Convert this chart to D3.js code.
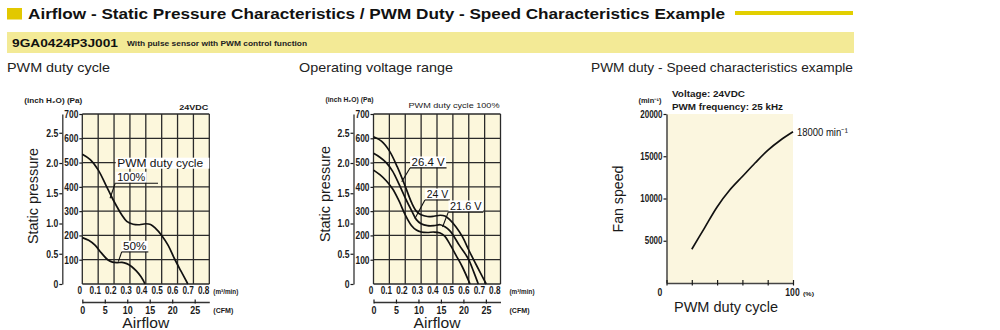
<!DOCTYPE html>
<html><head><meta charset="utf-8">
<script src="https://cdn.jsdelivr.net/npm/d3@7"></script>
<style>
body{margin:0;background:#fff;}
svg{display:block;font-family:"Liberation Sans",Arial,Helvetica,sans-serif;}
</style></head><body>
<svg id="c" width="1000" height="330"></svg>
<script>
// ---------- data ----------
const titleText = "Airflow - Static Pressure Characteristics / PWM Duty - Speed Characteristics Example";
const modelText = "9GA0424P3J001";
const modelNote = "With pulse sensor with PWM control function";
const subTitles = ["PWM duty cycle", "Operating voltage range", "PWM duty - Speed characteristics example"];

const flowTicks = [0, 0.1, 0.2, 0.3, 0.4, 0.5, 0.6, 0.7, 0.8];
const flowTickLabels = ["0", "0.1", "0.2", "0.3", "0.4", "0.5", "0.6", "0.7", "0.8"];
const cfmTicks = [0, 5, 10, 15, 20, 25];
const paTicks = [100, 200, 300, 400, 500, 600, 700];
const paGrid = [0, 100, 200, 300, 400, 500, 600, 700];
const inchTicks = [0, 0.5, 1, 1.5, 2, 2.5];
const inchTickLabels = ["0", "0.5", "1.0", "1.5", "2.0", "2.5"];

// PWM duty cycle chart (24 VDC)
const pwm100Flow = [0, 0.05, 0.1, 0.15, 0.19, 0.22, 0.25, 0.28, 0.32, 0.36, 0.4, 0.43, 0.46, 0.5, 0.54, 0.58, 0.62, 0.665];
const pwm100Pa   = [534, 512, 470, 405, 352, 316, 283, 258, 246, 244, 248, 245, 230, 200, 160, 105, 55, 0];
const pwm50Flow  = [0, 0.04, 0.08, 0.12, 0.16, 0.19, 0.22, 0.25, 0.28, 0.31, 0.34, 0.37, 0.395];
const pwm50Pa    = [191, 180, 160, 128, 100, 90, 88, 89, 84, 72, 54, 30, 0];

// Operating voltage range chart (PWM 100%)
const v264Flow = [0, 0.05, 0.1, 0.15, 0.2, 0.24, 0.27, 0.3, 0.34, 0.38, 0.42, 0.45, 0.48, 0.52, 0.56, 0.6, 0.64, 0.68, 0.71];
const v264Pa   = [606, 588, 548, 482, 402, 335, 300, 285, 278, 279, 283, 280, 265, 235, 195, 140, 88, 38, 0];
const v24Flow  = [0, 0.04, 0.08, 0.12, 0.16, 0.2, 0.24, 0.27, 0.3, 0.34, 0.38, 0.42, 0.45, 0.48, 0.5, 0.54, 0.58, 0.6, 0.63, 0.66];
const v24Pa    = [538, 522, 500, 465, 412, 355, 302, 265, 248, 240, 240, 244, 236, 220, 203, 160, 122, 100, 52, 0];
const v216Flow = [0, 0.04, 0.08, 0.12, 0.16, 0.2, 0.24, 0.27, 0.3, 0.34, 0.38, 0.42, 0.45, 0.48, 0.52, 0.56, 0.608];
const v216Pa   = [469, 450, 425, 392, 343, 285, 240, 222, 214, 212, 214, 210, 196, 165, 118, 70, 0];

// PWM duty - speed chart
const dutyValues = [20, 30, 40, 50, 60, 70, 80, 90, 100];
const speedValues = [4000, 6500, 9000, 11000, 12600, 14200, 15700, 16900, 17900];
const speedTicks = [5000, 10000, 15000, 20000];
const dutyTicks = [0, 20, 40, 60, 80, 100];

// ---------- helpers ----------
const svg = d3.select("#c");
const INK = "#1a1a1a";
const PA_PER_INCH = 249.089;
const M3MIN_PER_CFM = 0.0283168;

function fit(sel, len) { return sel.attr("textLength", len).attr("lengthAdjust", "spacingAndGlyphs"); }
function squeeze(sel, k) {
  sel.each(function () {
    const L = this.getComputedTextLength();
    d3.select(this).attr("textLength", L * k).attr("lengthAdjust", "spacingAndGlyphs");
  });
}
function txt(g, x, y, s, o = {}) {
  const t = g.append("text").attr("x", x).attr("y", y).text(s)
    .attr("font-size", o.size || 10).attr("fill", o.fill || INK)
    .attr("font-weight", o.bold ? "bold" : "normal")
    .attr("text-anchor", o.anchor || "start");
  if (o.len) fit(t, o.len);
  return t;
}
function whiteBox(g, t, x0, x1, yTop, yBot) {
  const r = document.createElementNS("http://www.w3.org/2000/svg", "rect");
  g.node().insertBefore(r, t.node());
  d3.select(r).attr("x", x0).attr("y", yTop).attr("width", x1 - x0).attr("height", yBot - yTop).attr("fill", "#ffffff");
}

// ---------- header ----------
svg.append("rect").attr("x", 7).attr("y", 8).attr("width", 15).attr("height", 11.5).attr("fill", "#e2c800");
txt(svg, 28, 19, titleText, { size: 15.5, bold: true, len: 697, fill: "#111" });
svg.append("rect").attr("x", 735).attr("y", 11).attr("width", 118).attr("height", 4).attr("fill", "#e2cf00");
svg.append("rect").attr("x", 7).attr("y", 32).attr("width", 847).attr("height", 21).attr("fill", "#f3ea96");
txt(svg, 12, 47, modelText, { size: 11.5, bold: true, len: 106, fill: "#111" });
txt(svg, 127, 46, modelNote, { size: 6.5, bold: true, len: 180, fill: "#222" });
txt(svg, 7, 72, subTitles[0], { size: 13, len: 103, fill: "#222" });
txt(svg, 299, 72, subTitles[1], { size: 13, len: 154, fill: "#222" });
txt(svg, 591, 72, subTitles[2], { size: 13, len: 262, fill: "#222" });

// ---------- P-Q chart ----------
function pqChart(cfg) {
  const g = svg.append("g");
  const x = d3.scaleLinear().domain([0, 0.8]).range([cfg.x0, cfg.x1]);
  const y = d3.scaleLinear().domain([0, 700]).range([cfg.y1, cfg.y0]);
  const yIn = d3.scaleLinear().domain([0, 700 / PA_PER_INCH]).range([cfg.y1, cfg.y0]);
  const xc = d3.scaleLinear().domain([0, 0.8 / M3MIN_PER_CFM]).range([cfg.x0, cfg.x1]);

  g.append("rect").attr("x", cfg.x0).attr("y", cfg.y0).attr("width", cfg.x1 - cfg.x0).attr("height", cfg.y1 - cfg.y0)
    .attr("fill", "#fcf7dc");
  g.selectAll(".vg").data(flowTicks).join("line")
    .attr("x1", d => x(d)).attr("x2", d => x(d)).attr("y1", cfg.y0).attr("y2", cfg.y1)
    .attr("stroke", "#2a2a2a").attr("stroke-width", 1.3);
  g.selectAll(".hg").data(paGrid).join("line")
    .attr("x1", cfg.x0).attr("x2", cfg.x1).attr("y1", d => y(d)).attr("y2", d => y(d))
    .attr("stroke", "#2a2a2a").attr("stroke-width", 1.3);

  // Pa axis
  const pa = g.append("g").attr("transform", `translate(${cfg.x0},0)`)
    .call(d3.axisLeft(y).tickValues(paTicks).tickSize(3).tickPadding(1).tickSizeOuter(0));
  pa.select(".domain").remove();
  pa.selectAll("line").attr("stroke", INK).attr("stroke-width", 1.2);
  pa.selectAll("text").attr("font-size", 10.5).attr("font-weight", "bold").attr("fill", INK).attr("font-family", null);
  squeeze(pa.selectAll("text"), 0.8);

  // inch axis
  const ia = g.append("g").attr("transform", `translate(${cfg.x0 - 20},0)`)
    .call(d3.axisLeft(yIn).tickValues(inchTicks).tickFormat((d, i) => inchTickLabels[i]).tickSize(3).tickPadding(1).tickSizeOuter(0));
  ia.select(".domain").attr("stroke", "#333").attr("stroke-width", 1.3);
  ia.selectAll("line").attr("stroke", INK).attr("stroke-width", 1.2);
  ia.selectAll("text").attr("font-size", 10.5).attr("font-weight", "bold").attr("fill", INK).attr("font-family", null);
  squeeze(ia.selectAll("text"), 0.82);

  // m3/min axis labels
  const xa = g.append("g").attr("transform", `translate(0,${cfg.y1})`)
    .call(d3.axisBottom(x).tickValues(flowTicks).tickFormat((d, i) => flowTickLabels[i]).tickSize(0).tickPadding(3));
  xa.select(".domain").remove();
  xa.selectAll("text").attr("font-size", 10.5).attr("font-weight", "bold").attr("fill", INK).attr("font-family", null)
    .attr("dx", d => -3 - d * 4);
  squeeze(xa.selectAll("text"), 0.78);
  txt(g, cfg.x1 + cfg.unitGap, 294, "(m³/min)", { size: 6.5, bold: true, len: 25 });

  // CFM axis
  const ca = g.append("g").attr("transform", `translate(0,${cfg.y1 + 18})`)
    .call(d3.axisBottom(xc).tickValues(cfmTicks).tickSize(2).tickPadding(2.5).tickSizeOuter(0));
  ca.select(".domain").attr("stroke", "#333").attr("stroke-width", 1.3);
  ca.selectAll("line").attr("y1", -2.5).attr("y2", 1.5).attr("stroke", INK).attr("stroke-width", 1.2);
  ca.selectAll("text").attr("font-size", 10.5).attr("font-weight", "bold").attr("fill", INK).attr("font-family", null);
  squeeze(ca.selectAll("text"), 0.85);
  txt(g, cfg.x1 + cfg.unitGap, 313, "(CFM)", { size: 6.5, bold: true, len: 20 });

  txt(g, (cfg.x0 + cfg.x1) / 2, 328, "Airflow", { size: 14.5, anchor: "middle", len: 47 });
  g.append("text").attr("transform", `translate(${cfg.x0 - 44},${cfg.yTitle}) rotate(-90)`)
    .attr("text-anchor", "middle").attr("font-size", 14).attr("fill", INK).text("Static pressure")
    .attr("textLength", 96).attr("lengthAdjust", "spacingAndGlyphs");

  txt(g, cfg.x0, cfg.unitY, "(inch H₂O)  (Pa)", { size: 7, bold: true, anchor: "end", len: cfg.unitLen });
  txt(g, cfg.x1 - 1, cfg.noteY, cfg.note, { size: 8, bold: cfg.noteBold, anchor: "end", len: cfg.noteLen });

  // curves
  const line = d3.line().x(d => x(d[0])).y(d => y(d[1])).curve(d3.curveCatmullRom.alpha(0.5));
  cfg.series.forEach(s => {
    g.append("path").datum(d3.zip(s.flow, s.pa)).attr("d", line)
      .attr("fill", "none").attr("stroke", "#111").attr("stroke-width", 1.7);
  });

  // annotations
  cfg.labels.forEach(l => {
    const t = txt(g, x(l.at[0]), y(l.at[1]), l.text, { size: l.size || 11.5, len: l.len, fill: "#111" });
    const bx0 = x(l.at[0]) - 1.5;
    const bx1 = l.boxTo != null ? x(l.boxTo) : x(l.at[0]) + l.len + 1.5;
    whiteBox(g, t, bx0, bx1, y(l.at[1]) - 9.5, y(l.at[1]) + 1.5);
    if (l.under) {
      g.append("line").attr("x1", x(l.under[0])).attr("x2", x(l.under[1])).attr("y1", y(l.under[2])).attr("y2", y(l.under[2]))
        .attr("stroke", "#111").attr("stroke-width", 1.1);
      g.append("line").attr("x1", x(l.under[0])).attr("y1", y(l.under[2])).attr("x2", x(l.lead[0])).attr("y2", y(l.lead[1]))
        .attr("stroke", "#111").attr("stroke-width", 1.1);
    }
  });
}

pqChart({
  x0: 82.3, x1: 209.3, y0: 114, y1: 284, yTitle: 196, unitGap: 4,
  unitY: 103, unitLen: 58, note: "24VDC", noteY: 110, noteLen: 29, noteBold: true,
  series: [{ flow: pwm100Flow, pa: pwm100Pa }, { flow: pwm50Flow, pa: pwm50Pa }],
  labels: [
    { text: "PWM duty cycle", at: [0.22, 481], len: 86, boxTo: 0.8 },
    { text: "100%", at: [0.22, 423], len: 28 , under: [0.207, 0.477, 415], lead: [0.175, 353] },
    { text: "50%", at: [0.256, 139], len: 23.5, under: [0.248, 0.416, 132], lead: [0.227, 92] }
  ]
});

pqChart({
  x0: 373.5, x1: 500.5, y0: 114, y1: 284, yTitle: 194, unitGap: 9,
  unitY: 102, unitLen: 48, note: "PWM duty cycle 100%", noteY: 107.5, noteLen: 91, noteBold: false,
  series: [{ flow: v264Flow, pa: v264Pa }, { flow: v24Flow, pa: v24Pa }, { flow: v216Flow, pa: v216Pa }],
  labels: [
    { text: "26.4 V", at: [0.24, 486], len: 33, under: [0.23, 0.46, 478], lead: [0.178, 421] },
    { text: "24 V", at: [0.335, 354], len: 21.5, under: [0.324, 0.482, 346], lead: [0.261, 270] },
    { text: "21.6 V", at: [0.482, 305], len: 31.5, under: [0.471, 0.692, 296], lead: [0.435, 235] }
  ]
});

// ---------- speed chart ----------
(function () {
  const x0 = 666.5, x1 = 793, y0 = 114, y1 = 283;
  const g = svg.append("g");
  const x = d3.scaleLinear().domain([0, 100]).range([x0, x1]);
  const y = d3.scaleLinear().domain([0, 20000]).range([y1, y0]);
  g.append("rect").attr("x", x0).attr("y", y0).attr("width", x1 - x0).attr("height", y1 - y0).attr("fill", "#fbf6df");

  const ya = g.append("g").attr("transform", `translate(${x0},0)`)
    .call(d3.axisLeft(y).tickValues(speedTicks).tickFormat(d3.format("d")).tickSize(3).tickPadding(1).tickSizeOuter(0));
  ya.select(".domain").attr("stroke", "#444").attr("stroke-width", 1.5);
  ya.selectAll("line").attr("stroke", INK).attr("stroke-width", 1.2);
  ya.selectAll("text").attr("font-size", 10).attr("font-weight", "bold").attr("fill", INK).attr("font-family", null);
  squeeze(ya.selectAll("text"), 0.8);

  const xa = g.append("g").attr("transform", `translate(0,${y1})`)
    .call(d3.axisBottom(x).tickValues(dutyTicks).tickFormat(d => (d === 0 || d === 100) ? String(d) : "")
      .tickSize(2).tickPadding(4).tickSizeOuter(0));
  xa.select(".domain").attr("stroke", "#444").attr("stroke-width", 1.5);
  xa.selectAll("line").attr("y1", -3).attr("y2", 2.5).attr("stroke", INK).attr("stroke-width", 1.2);
  xa.selectAll("text").attr("font-size", 10.5).attr("font-weight", "bold").attr("fill", INK).attr("font-family", null)
    .attr("dx", d => d === 0 ? -7 : -1);
  squeeze(xa.selectAll("text"), 0.82);
  txt(g, 803, 296, "(%)", { size: 6, bold: true, len: 11 });

  txt(g, 726, 312, "PWM duty cycle", { size: 14.5, anchor: "middle", len: 104 });
  g.append("text").attr("transform", `translate(623,199) rotate(-90)`)
    .attr("text-anchor", "middle").attr("font-size", 14).attr("fill", INK).text("Fan speed")
    .attr("textLength", 67).attr("lengthAdjust", "spacingAndGlyphs");

  txt(g, 650, 103, "(min⁻¹)", { size: 6.5, bold: true, anchor: "middle", len: 23 });
  txt(g, 672, 96.5, "Voltage: 24VDC", { size: 9.5, bold: true, len: 73 });
  txt(g, 672, 109.5, "PWM frequency: 25 kHz", { size: 9.5, bold: true, len: 111 });

  const line = d3.line().x(d => x(d[0])).y(d => y(d[1])).curve(d3.curveCatmullRom.alpha(0.5));
  g.append("path").datum(d3.zip(dutyValues, speedValues)).attr("d", line)
    .attr("fill", "none").attr("stroke", "#111").attr("stroke-width", 1.7);

  const last = dutyValues.length - 1;
  txt(g, x(dutyValues[last]) + 4, y(speedValues[last]) + 4, "18000 min⁻¹", { size: 10.5, len: 51, fill: "#111" });
})();
</script>
</body></html>
